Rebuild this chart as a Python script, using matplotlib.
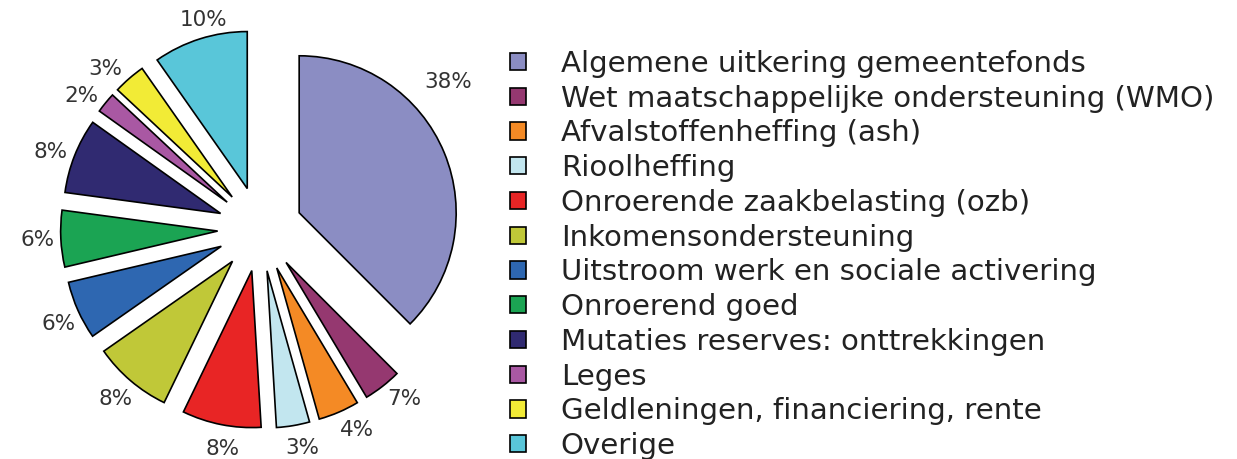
import numpy as np
import matplotlib
matplotlib.use('Agg')
import matplotlib.pyplot as plt

# categories (legend order = slice order, clockwise from 12 o'clock)
categories = [
    'Algemene uitkering gemeentefonds',
    'Wet maatschappelijke ondersteuning (WMO)',
    'Afvalstoffenheffing (ash)',
    'Rioolheffing',
    'Onroerende zaakbelasting (ozb)',
    'Inkomensondersteuning',
    'Uitstroom werk en sociale activering',
    'Onroerend goed',
    'Mutaties reserves: onttrekkingen',
    'Leges',
    'Geldleningen, financiering, rente',
    'Overige',
]
# slice sizes as drawn (share of the circle, %)
shares = [37.4, 3.9, 4.2, 3.4, 8.1, 8.1, 6.0, 5.8, 7.7, 2.1, 3.3, 9.7]
# percentages as printed next to the slices
pct_labels = ['38%', '7%', '4%', '3%', '8%', '8%', '6%', '6%', '8%', '2%', '3%', '10%']
colors = ['#8b8dc3', '#953870', '#f48a25', '#c2e6ef', '#e82525', '#c0c838',
          '#2e67b1', '#1ba453', '#302a71', '#a958a3', '#f2eb36', '#59c6d9']

W, H = 1237, 459
fig = plt.figure(figsize=(W / 100, H / 100), dpi=100)

# pie axes: centre at (260, 229) px, radius 157 px
r_px = 157.0
cx, cy = 260.0, 229.0
ax_w = 520.0
ax = fig.add_axes([0, 0, ax_w / W, 1])

explode = [0.27] * len(shares)
wedges, _ = ax.pie(shares, colors=colors, explode=explode,
                   startangle=90, counterclock=False,
                   wedgeprops=dict(edgecolor='black', linewidth=1.2))

# label placement tweaks (degrees off the slice middle, distance in radii)
label_shift = [15.5, 2.5, 2.5, 1.5, 1.5, 0, 1, 0, 1.3, 2.5, 3, -2.5]
label_dist = [1.52] + [1.42] * 10 + [1.38]
for w, lab, sh, d in zip(wedges, pct_labels, label_shift, label_dist):
    ang = np.deg2rad((w.theta1 + w.theta2) / 2 + sh)
    ax.text(d * np.cos(ang), d * np.sin(ang), lab, ha='center', va='center',
            fontsize=15.5, color='#333333')

ax.set_aspect('auto')
ax.set_xlim(-cx / r_px, (ax_w - cx) / r_px)
ax.set_ylim(-(H - cy) / r_px, cy / r_px)
ax.axis('off')

leg = fig.legend(wedges, categories, loc='upper left',
                 bbox_to_anchor=(510 / W, 1 - 50 / H), frameon=False,
                 fontsize=21.1, handlelength=0.53, handleheight=0.53,
                 handletextpad=1.2, labelspacing=0.23, borderpad=0,
                 borderaxespad=0, labelcolor='#222222')

fig.savefig('out.png', dpi=100)
